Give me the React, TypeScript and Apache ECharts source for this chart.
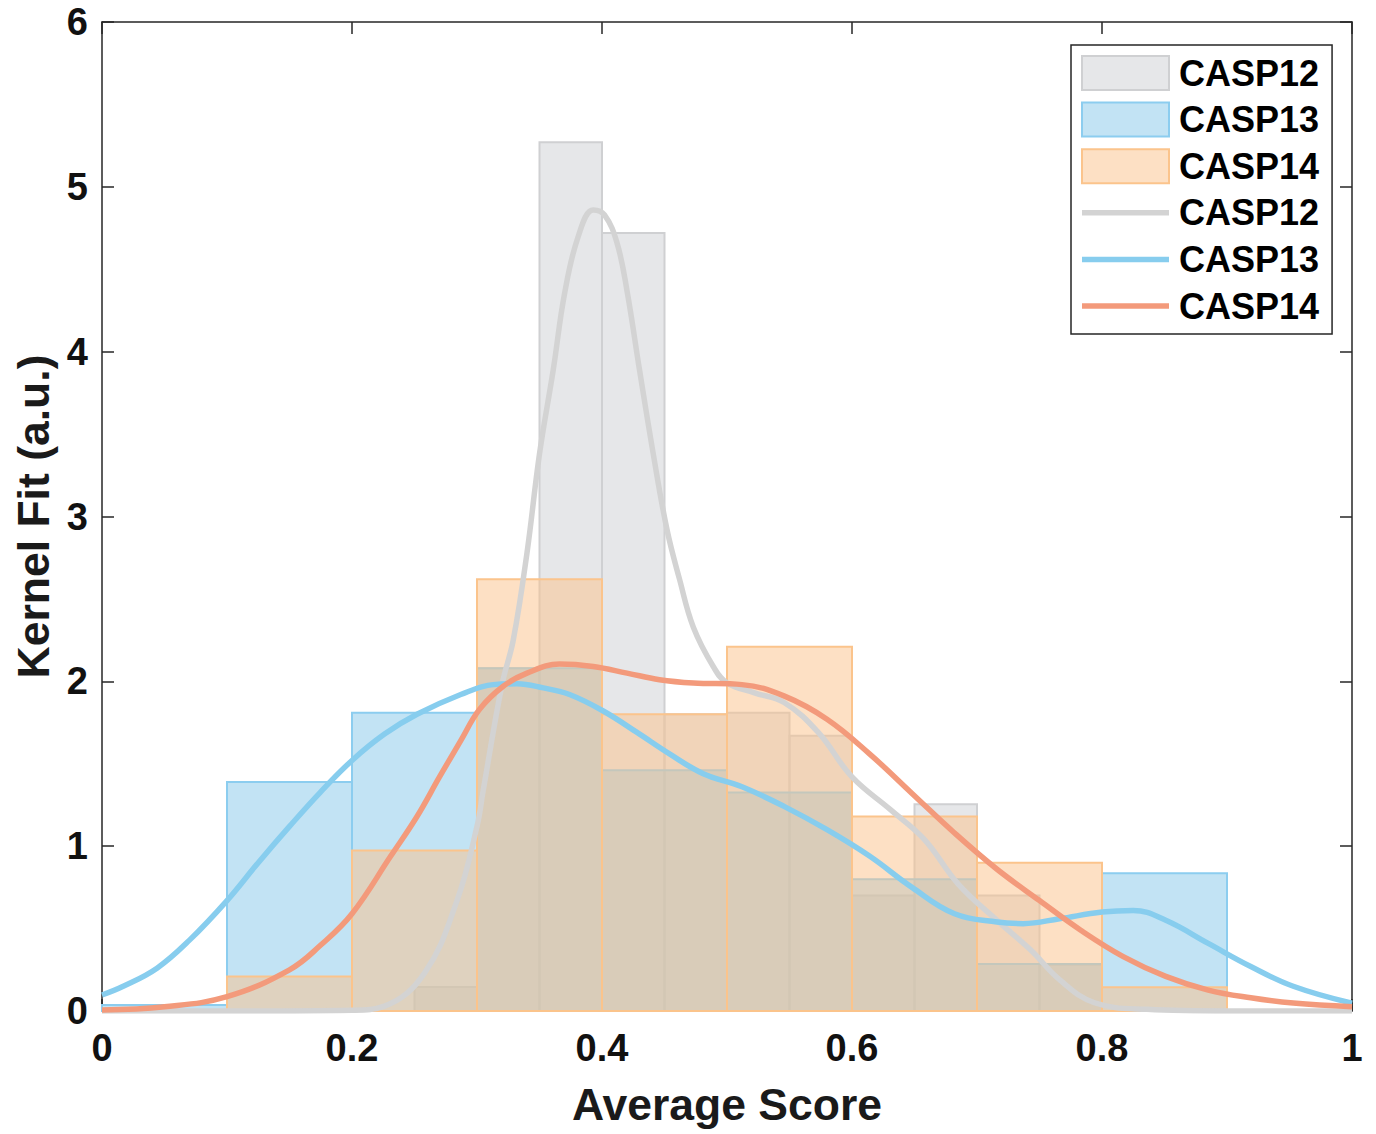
import React, { useEffect, useRef } from "react";
import * as echarts from "echarts";

// Histogram bins (bin start, heights) — normalized densities
const casp12BinStarts = [0.25, 0.3, 0.35, 0.4, 0.45, 0.5, 0.55, 0.6, 0.65, 0.7, 0.75];
const casp12Heights = [0.145, 2.08, 5.27, 4.72, 1.8, 1.81, 1.67, 0.7, 1.255, 0.7, 0.28];
const casp12BinWidth = 0.05;

const casp13BinStarts = [0.0, 0.1, 0.2, 0.3, 0.4, 0.5, 0.6, 0.7, 0.8];
const casp13Heights = [0.036, 1.39, 1.81, 2.08, 1.46, 1.325, 0.8, 0.285, 0.835];
const casp13BinWidth = 0.1;

const casp14BinStarts = [0.1, 0.2, 0.3, 0.4, 0.5, 0.6, 0.7, 0.8];
const casp14Heights = [0.21, 0.973, 2.62, 1.8, 2.21, 1.18, 0.9, 0.144];
const casp14BinWidth = 0.1;

// Kernel density fits
const casp12Kde = [
  [0, 0], [0.1, 0], [0.2, 0.005], [0.226, 0.03], [0.258, 0.23], [0.284, 0.67],
  [0.3, 1.12], [0.305, 1.34], [0.32, 1.98], [0.329, 2.25], [0.34, 2.78],
  [0.35, 3.38], [0.361, 3.89], [0.37, 4.35], [0.381, 4.7], [0.393, 4.86],
  [0.402, 4.83], [0.412, 4.66], [0.42, 4.37], [0.43, 3.89], [0.441, 3.38],
  [0.452, 2.92], [0.462, 2.62], [0.473, 2.33], [0.489, 2.09], [0.5, 1.99],
  [0.522, 1.93], [0.546, 1.87], [0.573, 1.69], [0.6, 1.42], [0.631, 1.22],
  [0.658, 1.04], [0.685, 0.77], [0.716, 0.55], [0.743, 0.37], [0.766, 0.19],
  [0.794, 0.05], [0.836, 0.01], [0.9, 0], [1, 0],
];
const casp13Kde = [
  [0, 0.097], [0.017, 0.15], [0.044, 0.26], [0.07, 0.43], [0.1, 0.67], [0.125, 0.9],
  [0.15, 1.12], [0.175, 1.33], [0.2, 1.52], [0.226, 1.68], [0.252, 1.8],
  [0.287, 1.92], [0.313, 1.98], [0.332, 1.985],
  [0.353, 1.96], [0.374, 1.92], [0.401, 1.82], [0.428, 1.69], [0.454, 1.56],
  [0.481, 1.44], [0.512, 1.36], [0.546, 1.24], [0.58, 1.1], [0.614, 0.94],
  [0.648, 0.75], [0.682, 0.59], [0.716, 0.54], [0.737, 0.53], [0.766, 0.56],
  [0.8, 0.6], [0.825, 0.61], [0.851, 0.55], [0.885, 0.41], [0.919, 0.27],
  [0.953, 0.15], [1, 0.047],
];
const casp14Kde = [
  [0, 0.006], [0.05, 0.026], [0.1, 0.087], [0.15, 0.25], [0.175, 0.4], [0.2, 0.59],
  [0.231, 0.94], [0.252, 1.18], [0.27, 1.42], [0.287, 1.64], [0.302, 1.83],
  [0.321, 1.97], [0.34, 2.05],
  [0.366, 2.105], [0.393, 2.09], [0.42, 2.05], [0.446, 2.01], [0.473, 1.99],
  [0.512, 1.98], [0.546, 1.91], [0.58, 1.77], [0.614, 1.56], [0.648, 1.32],
  [0.682, 1.08], [0.716, 0.86], [0.75, 0.67], [0.783, 0.49], [0.817, 0.33],
  [0.851, 0.21], [0.885, 0.127], [0.919, 0.08], [0.953, 0.048], [1, 0.026],
];

const xTicks = [0, 0.2, 0.4, 0.6, 0.8, 1];
const FONT = "'Liberation Sans', Arial, Helvetica, sans-serif";
const AXIS_COLOR = "#262626";

const GRAY_FILL = "rgba(205,207,211,0.5)";
const GRAY_EDGE = "#cfd0d2";
const BLUE_FILL = "rgba(133,199,233,0.5)";
const BLUE_EDGE = "#8ccdef";
const ORANGE_FILL = "rgba(251,193,137,0.5)";
const ORANGE_EDGE = "#fbc48c";
const GRAY_LINE = "#d3d3d3";
const BLUE_LINE = "#87cdee";
const ORANGE_LINE = "#f39a7b";
const LINE_W = 5.5;
const LEGEND_LINE_ICON = "path://M0,0H87V5.5H0Z";

function histSeries(name: string, starts: number[], heights: number[], width: number, fill: string, stroke: string) {
  return {
    type: "custom",
    name,
    data: starts.map((s, i) => [s, s + width, heights[i]]),
    encode: { x: [0, 1], y: 2 },
    itemStyle: { color: fill, borderColor: stroke, borderWidth: 2 },
    renderItem: (params: any, api: any) => {
      const a = api.coord([api.value(0), api.value(2)]);
      const b = api.coord([api.value(1), 0]);
      return {
        type: "rect",
        shape: { x: a[0], y: a[1], width: b[0] - a[0], height: b[1] - a[1] },
        style: { fill, stroke, lineWidth: 2 },
      };
    },
    z: 2,
  };
}

function kdeSeries(name: string, data: number[][], color: string) {
  return {
    type: "line",
    name,
    data,
    smooth: 0.4,
    showSymbol: false,
    symbol: "none",
    lineStyle: { color, width: LINE_W },
    itemStyle: { color },
    z: 3,
  };
}

export default function App() {
  const ref = useRef<HTMLDivElement>(null);
  useEffect(() => {
    if (!ref.current) return;
    const chart = echarts.init(ref.current, undefined, { renderer: "svg" });
    const axisLine = { show: true, onZero: false, lineStyle: { color: AXIS_COLOR, width: 1.5 } };
    const axisTick = { show: true, inside: true, length: 12, lineStyle: { color: AXIS_COLOR, width: 1.5 } };
    const labelStyle = { fontSize: 38, fontWeight: "bold", color: "#111", fontFamily: FONT };
    const nameStyle = { fontSize: 44.5, fontWeight: "bold", color: "#1a1a1a", fontFamily: FONT };
    chart.setOption({
      animation: false,
      backgroundColor: "#ffffff",
      grid: { left: 102, right: 24, top: 22, bottom: 123, containLabel: false },
      xAxis: [
        {
          type: "value", min: 0, max: 1, interval: 0.2, position: "bottom",
          axisLine, axisTick, splitLine: { show: false },
          axisLabel: { ...labelStyle, margin: 18, formatter: (v: number) => (xTicks.includes(Math.round(v * 10) / 10) ? String(Math.round(v * 10) / 10) : "") },
          name: "Average Score", nameLocation: "middle", nameGap: 71, nameTextStyle: nameStyle,
        },
        {
          type: "value", min: 0, max: 1, interval: 0.2, position: "top",
          axisLine, axisTick, splitLine: { show: false }, axisLabel: { show: false },
        },
      ],
      yAxis: [
        {
          type: "value", min: 0, max: 6, interval: 1, position: "left",
          axisLine, axisTick, splitLine: { show: false },
          axisLabel: { ...labelStyle, margin: 14 },
          name: "Kernel Fit (a.u.)", nameLocation: "middle", nameRotate: 90, nameGap: 45, nameTextStyle: nameStyle,
        },
        {
          type: "value", min: 0, max: 6, interval: 1, position: "right",
          axisLine, axisTick, splitLine: { show: false }, axisLabel: { show: false },
        },
      ],
      legend: {
        orient: "vertical",
        left: 1071,
        top: 45,
        padding: [10, 13, 10, 10],
        backgroundColor: "#ffffff",
        borderColor: AXIS_COLOR,
        borderWidth: 1.5,
        itemWidth: 87,
        itemHeight: 34,
        itemGap: 10.6,
        formatter: (n: string) => n.trim(),
        textStyle: { fontSize: 36, fontWeight: "bold", color: "#000", fontFamily: FONT, padding: [0, 0, 0, 5], lineHeight: 34 },
        data: [
          { name: "CASP12", icon: "rect", itemStyle: { color: GRAY_FILL, borderColor: GRAY_EDGE, borderWidth: 2 } },
          { name: "CASP13", icon: "rect", itemStyle: { color: BLUE_FILL, borderColor: BLUE_EDGE, borderWidth: 2 } },
          { name: "CASP14", icon: "rect", itemStyle: { color: ORANGE_FILL, borderColor: ORANGE_EDGE, borderWidth: 2 } },
          { name: "CASP12 ", icon: LEGEND_LINE_ICON, itemStyle: { color: GRAY_LINE, borderWidth: 0 } },
          { name: "CASP13 ", icon: LEGEND_LINE_ICON, itemStyle: { color: BLUE_LINE, borderWidth: 0 } },
          { name: "CASP14 ", icon: LEGEND_LINE_ICON, itemStyle: { color: ORANGE_LINE, borderWidth: 0 } },
        ],
      },
      series: [
        histSeries("CASP12", casp12BinStarts, casp12Heights, casp12BinWidth, GRAY_FILL, GRAY_EDGE),
        histSeries("CASP13", casp13BinStarts, casp13Heights, casp13BinWidth, BLUE_FILL, BLUE_EDGE),
        histSeries("CASP14", casp14BinStarts, casp14Heights, casp14BinWidth, ORANGE_FILL, ORANGE_EDGE),
        kdeSeries("CASP12 ", casp12Kde, GRAY_LINE),
        kdeSeries("CASP13 ", casp13Kde, BLUE_LINE),
        kdeSeries("CASP14 ", casp14Kde, ORANGE_LINE),
      ],
    });
    return () => chart.dispose();
  }, []);
  return (
    <div
      ref={ref}
      style={{ position: "fixed", left: 0, top: 0, width: 1376, height: 1134, background: "#fff" }}
    />
  );
}
